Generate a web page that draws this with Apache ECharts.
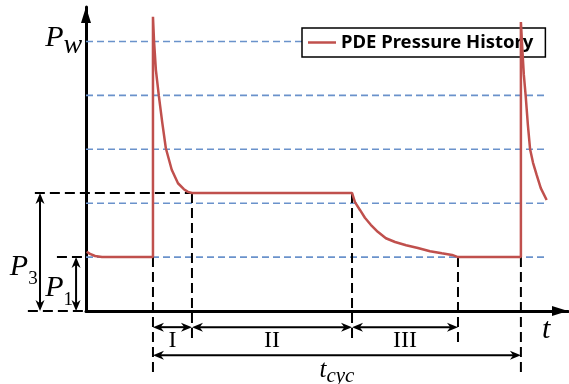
<!DOCTYPE html>
<html>
<head>
<meta charset="utf-8">
<script src="https://cdn.jsdelivr.net/npm/echarts@6/dist/echarts.min.js"></script>
<style>
  html, body { margin: 0; padding: 0; background: #fff; }
  #chart { width: 569px; height: 384px; }
</style>
</head>
<body>
<div id="chart"></div>
<script>
// Time in arbitrary units (one cycle = 100), pressure in units of P1.
// Cycle markers: pulse start, end of phase I, end of phase II, end of phase III, next pulse.
const cycleMarks = [18.2, 28.8, 72.3, 101.1, 118.2];
const phaseNames = ['I', 'II', 'III'];
const levelP1 = 1.0;
const levelP3 = 2.19;
const refLevels = [1, 2, 3, 4, 5];

// Wall pressure history
const timeData = [0.19, 1.09, 2.45, 4.35, 18.2,
  18.2, 18.5, 19.0, 19.8, 20.7, 21.7, 23.3, 25.0, 26.6, 27.7, 28.8,
  72.3, 73.1, 74.5, 75.8, 77.4, 79.3, 81.5, 84.0, 87.0, 90.2, 93.5, 96.7, 99.5, 101.1,
  118.2, 118.2, 118.6, 119.0, 119.5, 120.1, 120.7, 121.5, 122.5, 123.6, 125.2];
const pressureData = [1.10, 1.06, 1.02, 1.0, 1.0,
  5.46, 5.0, 4.47, 3.99, 3.51, 3.02, 2.62, 2.37, 2.26, 2.21, 2.19,
  2.19, 2.02, 1.87, 1.73, 1.60, 1.47, 1.35, 1.28, 1.22, 1.17, 1.11, 1.07, 1.04, 1.0,
  1.0, 5.36, 4.84, 4.38, 3.99, 3.45, 3.0, 2.75, 2.52, 2.28, 2.06];

const [t0, t1, t2, t3, t4] = cycleMarks;

// Annotation geometry, in data units: [x1, y1, x2, y2, kind]
// kind 0 = black dashed guide, 1 = double-headed dimension arrow, 2 = blue reference level
const annotations = [];
refLevels.forEach(v => annotations.push([0, v, 125.5, v, 2]));
annotations.push(
  [-13.9, levelP3, t1, levelP3, 0],
  [-7.9, levelP1, 0, levelP1, 0],
  [-15.8, 0, 0, 0, 0],
  [t0, levelP1, t0, -1.19, 0],
  [t1, levelP3, t1, -0.59, 0],
  [t2, levelP3, t2, -0.59, 0],
  [t3, levelP1, t3, -0.59, 0],
  [t4, levelP1, t4, -1.19, 0],
  [-12.5, levelP3, -12.5, 0, 1],
  [-2.7, levelP1, -2.7, 0, 1],
  [t0, -0.30, t1, -0.30, 1],
  [t1, -0.30, t2, -0.30, 1],
  [t2, -0.30, t3, -0.30, 1],
  [t0, -0.82, t4, -0.82, 1]
);

// Text labels: [x, y, text, align]
const labels = [
  [-11.1, 5.06, '{m|P}{s|w}', 'left'],
  [-20.7, 0.81, '{m|P}{d|3}', 'left'],
  [-11.1, 0.43, '{m|P}{d|1}', 'left'],
  [123.9, -0.35, '{m|t}', 'left'],
  [(t0 + t4) / 2, -1.11, '{t|t}{c|cyc}', 'center'],
  [(t0 + t1) / 2, -0.55, '{r|' + phaseNames[0] + '}', 'center'],
  [(t1 + t2) / 2, -0.55, '{r|' + phaseNames[1] + '}', 'center'],
  [(t2 + t3) / 2, -0.55, '{r|' + phaseNames[2] + '}', 'center']
];

const serif = 'Liberation Serif';
const richStyles = {
  m: { fontFamily: serif, fontStyle: 'italic', fontSize: 30, lineHeight: 32, fill: '#000' },
  s: { fontFamily: serif, fontStyle: 'italic', fontSize: 28, lineHeight: 30, padding: [14, 0, 0, 0], fill: '#000' },
  d: { fontFamily: serif, fontSize: 19, lineHeight: 20, padding: [24, 0, 0, 0], fill: '#000' },
  t: { fontFamily: serif, fontStyle: 'italic', fontSize: 25, lineHeight: 26, fill: '#000' },
  c: { fontFamily: serif, fontStyle: 'italic', fontSize: 21, lineHeight: 22, padding: [12, 0, 0, 0], fill: '#000' },
  r: { fontFamily: serif, fontSize: 24, lineHeight: 26, fill: '#000' }
};

function arrowHead(tip, ux, uy) {
  const L = 11, W = 4.5;
  const nx = -uy, ny = ux;
  return {
    type: 'polygon',
    shape: { points: [
      [tip[0], tip[1]],
      [tip[0] - ux * L + nx * W, tip[1] - uy * L + ny * W],
      [tip[0] - ux * L * 0.7, tip[1] - uy * L * 0.7],
      [tip[0] - ux * L - nx * W, tip[1] - uy * L - ny * W]
    ] },
    style: { fill: '#000' }
  };
}

function renderAnnotation(params, api) {
  const a = api.coord([api.value(0), api.value(1)]);
  const b = api.coord([api.value(2), api.value(3)]);
  const kind = api.value(4);
  if (kind === 2) {
    return { type: 'line', shape: { x1: a[0], y1: a[1], x2: b[0], y2: b[1] },
      style: { stroke: '#6a92cb', lineWidth: 1.6, lineDash: [7, 4] } };
  }
  if (kind === 0) {
    return { type: 'line', shape: { x1: a[0], y1: a[1], x2: b[0], y2: b[1] },
      style: { stroke: '#000', lineWidth: 2, lineDash: [10, 5] } };
  }
  const dx = b[0] - a[0], dy = b[1] - a[1];
  const len = Math.sqrt(dx * dx + dy * dy);
  const ux = dx / len, uy = dy / len;
  const inset = 6;
  return {
    type: 'group',
    children: [
      { type: 'line', shape: { x1: a[0] + ux * inset, y1: a[1] + uy * inset, x2: b[0] - ux * inset, y2: b[1] - uy * inset },
        style: { stroke: '#000', lineWidth: 2 } },
      arrowHead(b, ux, uy),
      arrowHead(a, -ux, -uy)
    ]
  };
}

function renderLabel(params, api) {
  const p = api.coord([api.value(0), api.value(1)]);
  const item = labels[params.dataIndex];
  return {
    type: 'text',
    x: p[0], y: p[1],
    style: { text: item[2], rich: richStyles, align: item[3], verticalAlign: 'middle' }
  };
}

const chart = echarts.init(document.getElementById('chart'), null, { renderer: 'canvas' });
chart.setOption({
  animation: false,
  backgroundColor: '#fff',
  grid: { left: 86, right: 1, top: 7, bottom: 73 },
  xAxis: {
    type: 'value', min: 0, max: 131,
    axisLine: { show: true, onZero: true, symbol: ['none', 'triangle'], symbolSize: [10, 16], symbolOffset: [0, -8],
      lineStyle: { color: '#000', width: 3 } },
    axisTick: { show: false }, axisLabel: { show: false }, splitLine: { show: false }
  },
  yAxis: {
    type: 'value', min: 0, max: 5.64,
    axisLine: { show: true, onZero: true, symbol: ['none', 'triangle'], symbolSize: [10, 16], symbolOffset: [0, -8],
      lineStyle: { color: '#000', width: 3 } },
    axisTick: { show: false }, axisLabel: { show: false }, splitLine: { show: false }
  },
  legend: {
    data: ['PDE Pressure History'],
    left: 302, top: 28, z: 4,
    icon: 'rect',
    itemWidth: 28, itemHeight: 2.5,
    padding: [5, 12, 5, 6],
    backgroundColor: '#fff', borderColor: '#000', borderWidth: 1.5,
    textStyle: { fontFamily: 'Noto Sans', fontWeight: 'bold', fontSize: 18.5, color: '#000' }
  },
  series: [
    {
      type: 'custom', name: 'guides', z: 2, clip: false, silent: true,
      renderItem: renderAnnotation,
      encode: { x: [0, 2], y: [1, 3] },
      data: annotations
    },
    {
      type: 'custom', name: 'labels', z: 3, clip: false, silent: true,
      renderItem: renderLabel,
      encode: { x: 0, y: 1 },
      data: labels.map(l => [l[0], l[1]])
    },
    {
      type: 'line', name: 'PDE Pressure History', z: 6,
      symbol: 'none', showSymbol: false,
      lineStyle: { color: '#c0504d', width: 2.5 },
      itemStyle: { color: '#c0504d' },
      data: timeData.map((t, i) => [t, pressureData[i]])
    }
  ]
});
</script>
</body>
</html>
